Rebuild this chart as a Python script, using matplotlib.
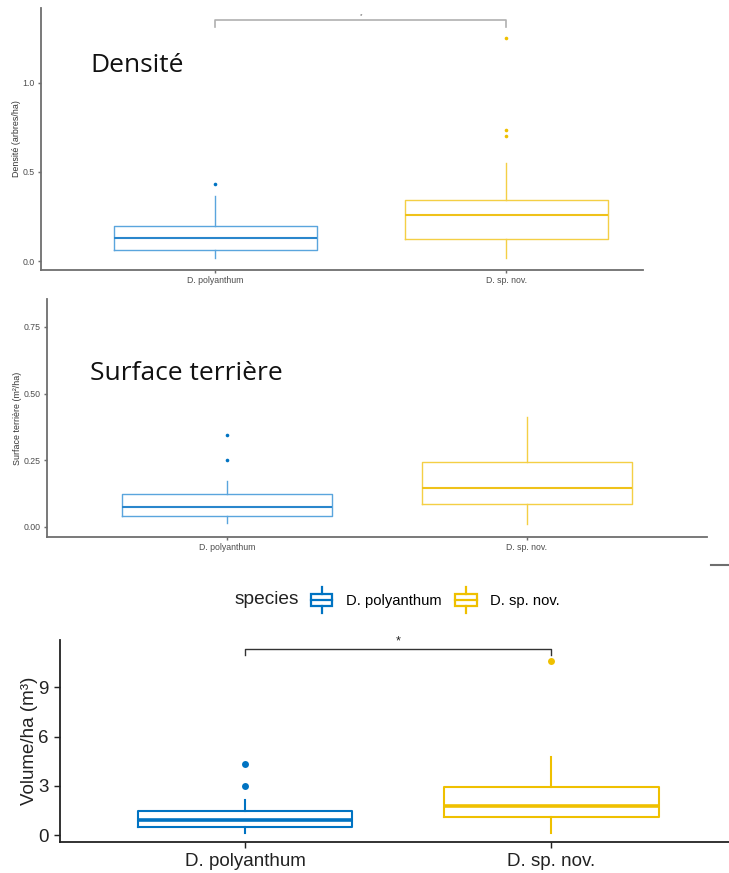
import matplotlib
matplotlib.use('Agg')
import matplotlib.pyplot as plt
from matplotlib.lines import Line2D
from matplotlib.patches import Rectangle
from matplotlib.legend_handler import HandlerBase

plt.rcParams['font.family'] = ['Liberation Sans', 'DejaVu Sans']

W, H = 729, 873

species = ['D. polyanthum', 'D. sp. nov.']
colors = ['#0073C2', '#EFC000']

# Densité (arbres/ha)
dens_whislo = [0.017, 0.015]
dens_q1 = [0.063, 0.122]
dens_med = [0.127, 0.260]
dens_q3 = [0.198, 0.344]
dens_whishi = [0.365, 0.549]
dens_fliers = [[0.433], [0.702, 0.736, 1.253]]

# Surface terrière (m²/ha)
surf_whislo = [0.016, 0.0125]
surf_q1 = [0.041, 0.0875]
surf_med = [0.075, 0.145]
surf_q3 = [0.125, 0.244]
surf_whishi = [0.172, 0.4125]
surf_fliers = [[0.25, 0.345], []]

# Volume/ha (m³)
vol_whislo = [0.16, 0.16]
vol_q1 = [0.53, 1.12]
vol_med = [0.91, 1.77]
vol_q3 = [1.48, 2.91]
vol_whishi = [2.13, 4.77]
vol_fliers = [[3.0, 4.33], [10.6]]


def px_rect(left, right, top, bottom):
    return [left / W, 1 - bottom / H, (right - left) / W, (bottom - top) / H]


def make_stats(lo, q1, med, q3, hi, fl):
    return [dict(whislo=lo[i], q1=q1[i], med=med[i], q3=q3[i], whishi=hi[i],
                 fliers=fl[i], label=species[i]) for i in range(len(species))]


def draw_boxes(ax, stats, box_cols, med_cols, lw, mlw, ms):
    for i, s in enumerate(stats):
        ax.bxp([s], positions=[i + 1], widths=0.7, showcaps=False, manage_ticks=False,
               boxprops=dict(color=box_cols[i], lw=lw),
               whiskerprops=dict(color=box_cols[i], lw=lw),
               medianprops=dict(color=med_cols[i], lw=mlw),
               flierprops=dict(marker='o', markerfacecolor=colors[i],
                               markeredgecolor='none', markersize=ms))


def style_axes(ax, col, lw, fs, tlen, pad, labcol):
    for s in ['top', 'right']:
        ax.spines[s].set_visible(False)
    for s in ['left', 'bottom']:
        ax.spines[s].set_color(col)
        ax.spines[s].set_linewidth(lw)
    ax.tick_params(color=col, length=tlen, width=lw * 0.8, labelsize=fs,
                   labelcolor=labcol, pad=pad)
    ax.set_xticks([1, 2], species)


fig = plt.figure(figsize=(W / 100, H / 100), dpi=100)

# ---- panel 1 : densité
ax1 = fig.add_axes(px_rect(41, 643, 8, 270))
draw_boxes(ax1, make_stats(dens_whislo, dens_q1, dens_med, dens_q3, dens_whishi, dens_fliers),
           ['#5aa5dd', '#f4cf45'], ['#2a86cc', '#efc21a'], 1.0, 1.5, 2.6)
ax1.set_xlim(0.40, 2.47)
ax1.set_ylim(-0.05, 1.42)
ax1.set_yticks([0, 0.5, 1.0], ['0.0', '0.5', '1.0'])
style_axes(ax1, '#6e6e6e', 1.3, 6.3, 2, 2.5, '#4d4d4d')
ax1.set_ylabel('Densité (arbres/ha)', fontsize=6.4, color='#333333', labelpad=1)
ax1.plot([1, 1, 2, 2], [1.315, 1.354, 1.354, 1.315], color='#b0b0b0', lw=1.2)
ax1.text(1.5, 1.365, '*', ha='center', va='bottom', fontsize=4.5, color='#555555')
ax1.text(90 / W, 1 - 65 / H, 'Densité', transform=fig.transFigure, family='Open Sans',
         fontsize=19, va='center', ha='left', color='#111111')

# ---- panel 2 : surface terrière
ax2 = fig.add_axes(px_rect(47, 707, 299, 537))
draw_boxes(ax2, make_stats(surf_whislo, surf_q1, surf_med, surf_q3, surf_whishi, surf_fliers),
           ['#5aa5dd', '#f4cf45'], ['#2a86cc', '#efc21a'], 1.0, 1.5, 2.6)
ax2.set_xlim(0.40, 2.60)
ax2.set_ylim(-0.0375, 0.854)
ax2.set_yticks([0, 0.25, 0.5, 0.75], ['0.00', '0.25', '0.50', '0.75'])
style_axes(ax2, '#6e6e6e', 1.3, 6.3, 2, 2.5, '#4d4d4d')
ax2.set_ylabel('Surface terrière (m²/ha)', fontsize=6.4, color='#333333', labelpad=1)
ax2.text(90 / W, 1 - 373 / H, 'Surface terrière', transform=fig.transFigure, family='Open Sans',
         fontsize=19, va='center', ha='left', color='#111111')

fig.add_artist(Line2D([711 / W, 729 / W], [1 - 565 / H, 1 - 565 / H], color='#6e6e6e', lw=1.5))

# ---- panel 3 : volume
ax3 = fig.add_axes(px_rect(60, 729, 640, 842))
draw_boxes(ax3, make_stats(vol_whislo, vol_q1, vol_med, vol_q3, vol_whishi, vol_fliers),
           colors, colors, 1.5, 2.6, 5)
ax3.set_xlim(0.395, 2.58)
ax3.set_ylim(-0.41, 11.89)
ax3.set_yticks([0, 3, 6, 9])
style_axes(ax3, '#222222', 1.3, 13.5, 4, 4, '#222222')
ax3.set_ylabel('Volume/ha (m³)', fontsize=13.5, color='#222222', labelpad=0)
ax3.plot([1, 1, 2, 2], [10.98, 11.32, 11.32, 10.98], color='#333333', lw=1.0)
ax3.text(1.5, 11.45, '*', ha='center', va='bottom', fontsize=9, color='#222222')


class BoxKey(HandlerBase):
    def create_artists(self, legend, orig_handle, xdescent, ydescent, width, height, fontsize, trans):
        c = orig_handle.get_color()
        x0, y0 = -xdescent, -ydescent
        xm = x0 + width / 2
        arts = [
            Rectangle((x0, y0 + 0.25 * height), width, 0.5 * height, fill=False, ec=c, lw=1.6, transform=trans),
            Line2D([x0, x0 + width], [y0 + 0.5 * height] * 2, color=c, lw=1.6, transform=trans),
            Line2D([xm, xm], [y0, y0 + 0.25 * height], color=c, lw=1.6, transform=trans),
            Line2D([xm, xm], [y0 + 0.75 * height, y0 + height], color=c, lw=1.6, transform=trans),
        ]
        return arts


handles = [Line2D([], [], color=c) for c in colors]
fig.text(235 / W, 1 - 600 / H, 'species', fontsize=13.8, va='center', ha='left', color='#222222')
fig.legend(handles, species, handler_map={Line2D: BoxKey()}, loc='center left',
           bbox_to_anchor=(311 / W, 1 - 600 / H), ncol=2, frameon=False, fontsize=10.6,
           handlelength=1.45, handleheight=2.3, handletextpad=0.9, columnspacing=0.95,
           borderpad=0, borderaxespad=0)

fig.savefig('out.png', dpi=100)
